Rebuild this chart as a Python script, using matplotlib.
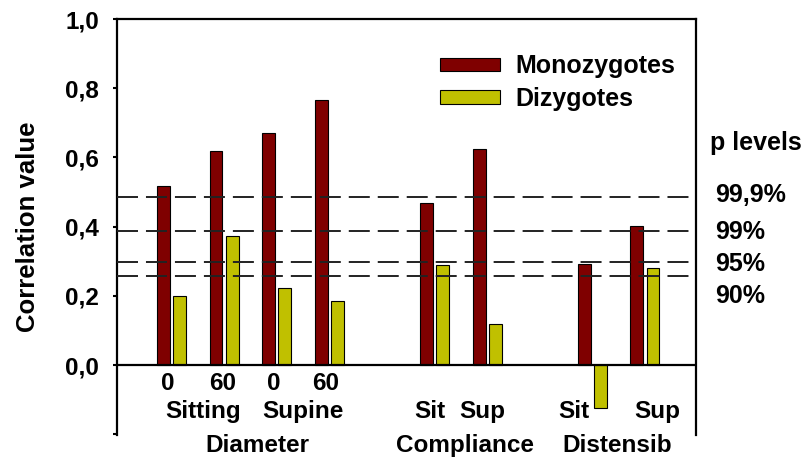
import matplotlib
matplotlib.use("Agg")
import matplotlib.pyplot as plt
import numpy as np

plt.rcParams['font.family'] = 'Liberation Sans'
plt.rcParams['font.weight'] = 'bold'

# bar values
positions = [0, 1, 2, 3, 5, 6, 8, 9]
mono = [0.518, 0.620, 0.670, 0.767, 0.469, 0.624, 0.292, 0.402]
dizy = [0.201, 0.374, 0.222, 0.186, 0.289, 0.120, -0.124, 0.282]

# significance thresholds
p_levels = [0.486, 0.388, 0.299, 0.256]
p_labels = ['99,9%', '99%', '95%', '90%']

first_row = ['0', '60', '0', '60']
second_row = ['Sitting', 'Supine', 'Sit', 'Sup', 'Sit', 'Sup']
groups = ['Diameter', 'Compliance', 'Distensib']

fig = plt.figure(figsize=(8.04, 4.58), dpi=100)
ax = fig.add_axes([0.1455, 0.0502, 0.7202, 0.9083])

x = np.array(positions)
w = 0.245
off = 0.153
ax.bar(x - off, mono, w, color='#7f0000', edgecolor='black', linewidth=0.8,
       label='Monozygotes', zorder=2)
ax.bar(x + off, dizy, w, color='#c0c000', edgecolor='black', linewidth=0.8,
       label='Dizygotes', zorder=2)

for lv in p_levels:
    ln = ax.axhline(lv, color='#222222', lw=1.4, zorder=3)
    ln.set_dashes((10.8, 4.1))
ax.axhline(0, color='black', lw=1.6, zorder=3)

ax.set_xlim(-1.036, 9.97)
ax.set_ylim(-0.202, 1.0)
ax.set_yticks([-0.2, 0.0, 0.2, 0.4, 0.6, 0.8, 1.0])
ax.set_yticklabels(['', '0,0', '0,2', '0,4', '0,6', '0,8', '1,0'], fontsize=17.5, fontweight='bold')
ax.tick_params(axis='y', direction='out', length=3, width=1.5, pad=10)
ax.set_xticks([])
ax.spines['bottom'].set_visible(False)
for s in ['left', 'right', 'top']:
    ax.spines[s].set_linewidth(1.6)

ax.set_ylabel('Correlation value', fontsize=18.5, fontweight='bold', labelpad=18)

# category labels under the bars
fx = [-0.065, 0.98, 1.94, 2.93]
for xi, t in zip(fx, first_row):
    ax.text(xi, -0.052, t, ha='center', va='center', fontsize=17.5, fontweight='bold')
sx = [0.6, 2.5, 4.92, 5.9, 7.65, 9.23]
for xi, t in zip(sx, second_row):
    ax.text(xi, -0.135, t, ha='center', va='center', fontsize=17.5, fontweight='bold')
gx = [1.63, 5.58, 8.48]
for xi, t in zip(gx, groups):
    ax.text(xi, -0.233, t, ha='center', va='center', fontsize=17.5, fontweight='bold',
            clip_on=False)

leg = ax.legend(loc='upper left', bbox_to_anchor=(0.558, 0.915), frameon=False,
                fontsize=18, handlelength=2.4, handleheight=0.45,
                handletextpad=0.6, labelspacing=0.35, borderpad=0, borderaxespad=0)
for t in leg.get_texts():
    t.set_fontweight('bold')

# p level labels on the right
fig.text(710 / 804, 1 - 143 / 458, 'p levels', ha='left', va='center',
         fontsize=18, fontweight='bold')
for lbl, ypx in zip(p_labels, [195, 232, 264, 296]):
    fig.text(715 / 804, 1 - ypx / 458, lbl, ha='left', va='center',
             fontsize=18, fontweight='bold')

fig.savefig('out.png', dpi=100)
